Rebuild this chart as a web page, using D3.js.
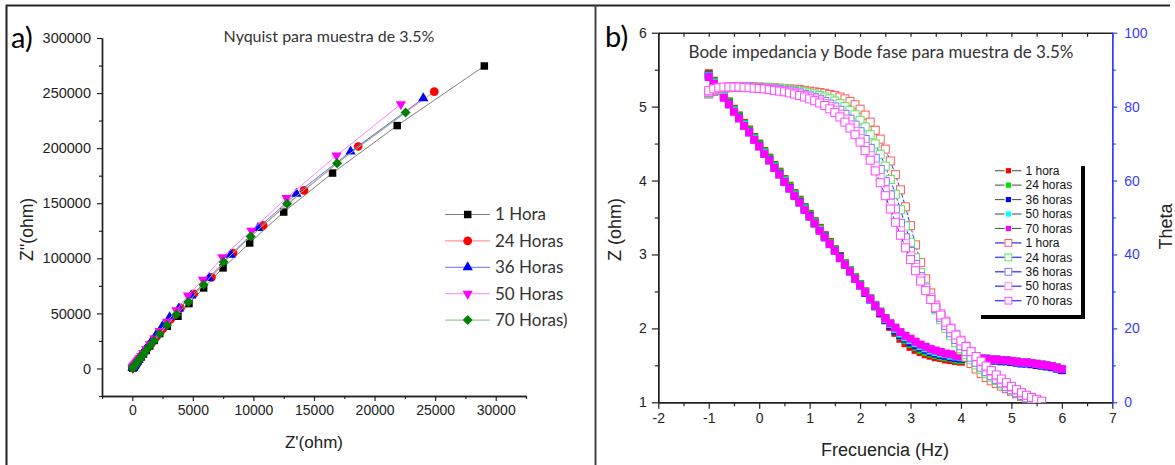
<!DOCTYPE html>
<html>
<head>
<meta charset="utf-8">
<script src="https://cdn.jsdelivr.net/npm/d3@7"></script>
<style>
  body { margin: 0; background: #fff; }
  svg { display: block; }
  .tick text { font-family: Arial, "Liberation Sans", sans-serif; font-size: 14px; fill: #222; }
</style>
</head>
<body>
<svg id="fig" width="1175" height="465"></svg>
<script>
// ---------------- Nyquist data (Z' and Z'' in ohm) ----------------
const nyqLabels = ["1 Hora", "24 Horas", "36 Horas", "50 Horas", "70 Horas)"];

const zr1h  = [29060, 21870, 16530, 12500, 9690, 7490, 5890, 4680, 3770, 2890, 2260, 1800, 1440, 1150, 920, 740, 590, 470, 380, 300, 240, 190, 150, 120, 95, 75, 60, 48, 38, 30];
const zi1h  = [274600, 220500, 177400, 142000, 113900, 91300, 73100, 58900, 47400, 38300, 31700, 25400, 20400, 16400, 13100, 10500, 8400, 6700, 5400, 4300, 3400, 2700, 2150, 1700, 1350, 1080, 860, 690, 550, 440];

const zr24h = [24930, 18650, 14180, 10800, 8320, 6530, 5070, 3970, 3150, 2510, 2000, 1600, 1280, 1020, 810, 650, 520, 410, 330, 260, 210, 165, 130, 105, 85, 68, 54, 43, 34];
const zi24h = [251300, 201500, 161600, 129900, 104800, 82700, 67700, 55000, 44500, 35900, 28900, 23300, 18700, 15000, 12000, 9600, 7700, 6200, 4900, 3900, 3100, 2500, 2000, 1600, 1270, 1010, 800, 640, 510];

const zr36h = [24020, 18020, 13550, 10380, 8120, 6330, 4870, 3850, 3080, 2480, 1980, 1580, 1260, 1000, 800, 640, 510, 400, 320, 255, 205, 160, 128, 102, 82, 65, 52, 42, 33];
const zi36h = [245300, 196900, 158600, 127500, 103300, 82200, 66200, 54400, 46500, 38300, 30900, 24800, 19900, 15900, 12700, 10200, 8100, 6500, 5200, 4100, 3300, 2600, 2100, 1650, 1320, 1050, 840, 670, 530];

const zr50h = [22170, 16860, 12730, 9830, 7440, 5830, 4600, 3640, 2880, 2280, 1820, 1450, 1150, 920, 730, 580, 460, 370, 295, 235, 185, 148, 118, 94, 75, 60, 48, 38, 30];
const zi50h = [239900, 193300, 154700, 125100, 100900, 80600, 66200, 52900, 42400, 34000, 27300, 21900, 17500, 14000, 11200, 9000, 7200, 5750, 4600, 3700, 2950, 2350, 1880, 1500, 1200, 960, 770, 610, 490];

const zr70h = [22560, 16910, 12780, 9780, 7540, 5890, 4630, 3640, 2860, 2260, 1800, 1430, 1140, 910, 730, 580, 460, 370, 295, 235, 188, 150, 120, 95, 76, 61, 49, 39, 31];
const zi70h = [232300, 186400, 149500, 119900, 96700, 76100, 60400, 48900, 39200, 31400, 25200, 20200, 16200, 13000, 10400, 8300, 6650, 5300, 4250, 3400, 2700, 2150, 1720, 1380, 1100, 880, 700, 560, 450];

const nyqXTicks = [0, 5000, 10000, 15000, 20000, 25000, 30000];
const nyqYTicks = [0, 50000, 100000, 150000, 200000, 250000, 300000];

// ---------------- Bode data (log10 f, log10 |Z|, phase in degrees) ----------------
const logFreq = [-1.0,-0.9,-0.8,-0.7,-0.6,-0.5,-0.4,-0.3,-0.2,-0.1,0.0,0.1,0.2,0.3,0.4,0.5,0.6,0.7,0.8,0.9,
  1.0,1.1,1.2,1.3,1.4,1.5,1.6,1.7,1.8,1.9,2.0,2.1,2.2,2.3,2.4,2.5,2.6,2.7,2.8,2.9,
  3.0,3.1,3.2,3.3,3.4,3.5,3.6,3.7,3.8,3.9,4.0,4.1,4.2,4.3,4.4,4.5,4.6,4.7,4.8,4.9,
  5.0,5.1,5.2,5.3,5.4,5.5,5.6,5.7,5.8,5.9,6.0];

const bodeLabels = ["1 hora", "24 horas", "36 horas", "50 horas", "70 horas"];

const logZ1h  = [5.45,5.35,5.26,5.16,5.07,4.97,4.88,4.78,4.69,4.59,4.50,4.40,4.31,4.21,4.12,4.02,3.93,3.83,3.74,3.64,
  3.55,3.45,3.36,3.26,3.17,3.07,2.98,2.88,2.79,2.69,2.60,2.50,2.40,2.30,2.20,2.11,2.02,1.94,1.86,1.80,
  1.75,1.71,1.68,1.65,1.63,1.61,1.60,1.58,1.57,1.56,1.55,1.61,1.60,1.60,1.59,1.59,1.58,1.58,1.57,1.57,
  1.56,1.55,1.54,1.54,1.53,1.52,1.51,1.50,1.49,1.47,1.45];
const logZ24h = [5.43,5.34,5.25,5.15,5.06,4.96,4.87,4.77,4.68,4.58,4.49,4.39,4.30,4.20,4.11,4.01,3.92,3.82,3.73,3.63,
  3.54,3.44,3.35,3.25,3.16,3.07,2.97,2.88,2.79,2.69,2.60,2.50,2.41,2.32,2.23,2.14,2.05,1.97,1.90,1.84,
  1.79,1.75,1.71,1.68,1.66,1.64,1.62,1.61,1.60,1.58,1.57,1.61,1.60,1.60,1.59,1.59,1.58,1.58,1.57,1.57,
  1.56,1.55,1.54,1.54,1.53,1.52,1.51,1.50,1.49,1.47,1.45];
const logZ36h = [5.42,5.32,5.23,5.13,5.04,4.94,4.85,4.75,4.66,4.56,4.47,4.37,4.28,4.18,4.09,3.99,3.90,3.80,3.71,3.61,
  3.52,3.42,3.33,3.24,3.14,3.05,2.96,2.86,2.77,2.67,2.58,2.48,2.39,2.30,2.21,2.12,2.04,1.97,1.91,1.86,
  1.81,1.77,1.74,1.71,1.68,1.66,1.64,1.63,1.61,1.60,1.59,1.595,1.585,1.585,1.575,1.575,1.565,1.565,1.555,1.555,
  1.545,1.535,1.525,1.525,1.515,1.505,1.495,1.485,1.475,1.455,1.435];
const logZ50h = [5.41,5.32,5.22,5.13,5.03,4.94,4.84,4.75,4.65,4.56,4.46,4.37,4.27,4.18,4.08,3.99,3.89,3.80,3.70,3.61,
  3.51,3.42,3.33,3.23,3.14,3.05,2.95,2.86,2.77,2.67,2.58,2.49,2.40,2.31,2.22,2.13,2.06,1.99,1.93,1.88,
  1.84,1.80,1.76,1.73,1.70,1.68,1.66,1.65,1.63,1.62,1.61,1.61,1.60,1.60,1.59,1.59,1.58,1.58,1.57,1.57,
  1.56,1.55,1.54,1.54,1.53,1.52,1.51,1.50,1.49,1.47,1.45];
const logZ70h = [5.40,5.31,5.22,5.12,5.03,4.93,4.84,4.74,4.65,4.55,4.46,4.36,4.27,4.17,4.08,3.98,3.89,3.79,3.70,3.60,
  3.51,3.42,3.32,3.23,3.14,3.05,2.95,2.86,2.77,2.67,2.58,2.49,2.40,2.31,2.22,2.14,2.07,2.01,1.95,1.90,
  1.86,1.82,1.78,1.75,1.72,1.70,1.68,1.66,1.65,1.63,1.62,1.61,1.60,1.60,1.59,1.59,1.58,1.58,1.57,1.57,
  1.56,1.55,1.54,1.54,1.53,1.52,1.51,1.50,1.49,1.47,1.45];

const theta1h  = [83.4,84.1,84.6,84.9,85.1,85.2,85.3,85.3,85.3,85.3,85.3,85.2,85.2,85.1,85.0,84.9,84.8,84.7,84.6,84.4,
  84.2,84.0,83.8,83.6,83.3,83.0,82.6,82.1,81.4,80.5,79.3,77.7,75.8,73.6,71.2,68.5,65.3,61.6,57.5,52.9,
  47.8,42.6,37.8,33.4,29.6,26.3,23.4,20.8,18.4,16.2,14.1,12.2,10.5,9.0,7.8,6.7,5.8,5.1,4.4,3.7,
  3.0,2.3,1.6,0.8,0.1];
const theta24h = [83.6,84.3,84.7,85.0,85.2,85.3,85.3,85.3,85.3,85.3,85.2,85.2,85.1,85.0,84.9,84.8,84.6,84.4,84.2,84.0,
  83.7,83.4,83.0,82.6,82.1,81.5,80.8,80.0,79.0,77.8,76.3,74.5,72.4,69.9,67.1,63.9,60.3,56.3,52.1,47.7,
  43.3,39.1,35.1,31.4,28.0,25.0,22.3,20.0,18.0,16.1,14.5,12.9,11.5,10.1,8.9,7.8,6.8,5.9,5.0,4.2,
  3.4,2.6,1.8,1.1,0.4];
const theta36h = [83.8,84.5,84.9,85.1,85.3,85.3,85.3,85.3,85.3,85.2,85.1,85.0,84.9,84.8,84.6,84.4,84.2,84.0,83.7,83.3,
  82.9,82.5,82.0,81.4,80.7,79.9,79.0,77.9,76.6,75.0,73.2,71.1,68.7,66.0,63.0,59.7,56.1,52.3,48.4,44.5,
  40.8,37.3,34.0,30.9,28.0,25.4,23.0,20.8,18.8,17.0,15.3,13.7,12.2,10.8,9.5,8.3,7.2,6.2,5.2,4.3,
  3.4,2.6,1.9,1.2,0.6,0.1];
const theta50h = [84.0,84.6,85.0,85.2,85.3,85.3,85.3,85.3,85.2,85.1,85.0,84.9,84.8,84.6,84.4,84.2,84.0,83.7,83.4,83.0,
  82.6,82.1,81.5,80.8,80.0,79.0,77.9,76.6,75.0,73.3,71.4,69.2,66.7,63.9,60.8,57.4,53.8,50.1,46.4,42.9,
  39.6,36.5,33.6,30.9,28.4,26.1,24.0,22.0,20.1,18.4,16.8,15.2,13.7,12.3,10.9,9.6,8.4,7.2,6.1,5.1,
  4.1,3.3,2.5,1.8,1.2,0.7,0.2];
const theta70h = [84.3,84.8,85.1,85.3,85.3,85.3,85.3,85.2,85.1,85.0,84.9,84.8,84.6,84.4,84.2,84.0,83.7,83.4,83.0,82.6,
  82.1,81.6,81.0,80.3,79.4,78.4,77.2,75.8,74.2,72.4,70.4,68.1,65.5,62.6,59.4,55.9,52.3,48.7,45.2,41.8,
  38.6,35.6,32.8,30.2,27.8,25.6,23.6,21.7,19.9,18.2,16.6,15.1,13.7,12.4,11.1,9.8,8.6,7.4,6.3,5.3,
  4.3,3.4,2.6,1.9,1.3,0.8,0.3];

const bodeXTicks = [-2, -1, 0, 1, 2, 3, 4, 5, 6, 7];
const bodeYTicks = [1, 2, 3, 4, 5, 6];
const thetaTicks = [0, 20, 40, 60, 80, 100];

// ---------------- drawing ----------------
const svg = d3.select("#fig");
const SANS = "Arial, 'Liberation Sans', sans-serif";
const SOFT = "Lato, 'Open Sans', sans-serif";
const fmt = d => String(d);

// figure frame
const frame = svg.append("g").attr("stroke", "#222").attr("stroke-width", 2);
frame.append("line").attr("x1", 6).attr("x2", 1170).attr("y1", 5.5).attr("y2", 5.5);
frame.append("line").attr("x1", 6.5).attr("x2", 6.5).attr("y1", 5).attr("y2", 465);
frame.append("line").attr("x1", 595.5).attr("x2", 595.5).attr("y1", 5).attr("y2", 465).attr("stroke", "#444");

// ===== Panel a: Nyquist =====
const pa = { l: 102, r: 526, t: 38, b: 396 };
const xA = d3.scaleLinear().domain([-2500, 32500]).range([pa.l, pa.r]);
const yA = d3.scaleLinear().domain([-25000, 300000]).range([pa.b, pa.t]);
const gA = svg.append("g");

function styleAxis(g, color) {
  g.select(".domain").attr("stroke", color).attr("stroke-width", 1.4);
  g.selectAll(".tick line").attr("stroke", color).attr("stroke-width", 1.2);
}

const xMinorA = d3.range(-2500, 32501, 5000);
const yMinorA = d3.range(-25000, 300001, 50000);
gA.append("g").attr("transform", `translate(0,${pa.b})`)
  .call(d3.axisBottom(xA).tickValues(xMinorA).tickSize(3).tickSizeOuter(0).tickFormat(""))
  .call(g => styleAxis(g, "#222"));
gA.append("g").attr("transform", `translate(0,${pa.b})`)
  .call(d3.axisBottom(xA).tickValues(nyqXTicks).tickSize(5).tickPadding(4).tickSizeOuter(0).tickFormat(fmt))
  .call(g => styleAxis(g, "#222"));
gA.append("g").attr("transform", `translate(${pa.l},0)`)
  .call(d3.axisLeft(yA).tickValues(yMinorA).tickSize(3).tickSizeOuter(0).tickFormat(""))
  .call(g => styleAxis(g, "#222"));
gA.append("g").attr("transform", `translate(${pa.l},0)`)
  .call(d3.axisLeft(yA).tickValues(nyqYTicks).tickSize(5).tickPadding(6).tickSizeOuter(0).tickFormat(fmt))
  .call(g => styleAxis(g, "#222"))
  .call(g => g.selectAll(".tick text").style("font-size", "14.5px"));

gA.append("text").attr("x", 314).attr("y", 448).attr("text-anchor", "middle")
  .attr("font-family", SANS).attr("font-size", 17).attr("fill", "#222").text("Z'(ohm)");
gA.append("text").attr("transform", "translate(33,229.5) rotate(-90)").attr("text-anchor", "middle")
  .attr("font-family", SANS).attr("font-size", 17.5).attr("fill", "#222").text("Z''(ohm)");
gA.append("text").attr("x", 329).attr("y", 41.5).attr("text-anchor", "middle")
  .attr("font-family", SOFT).attr("font-size", 16).attr("fill", "#333").text("Nyquist para muestra de 3.5%");
svg.append("text").attr("x", 11).attr("y", 48).attr("font-family", SOFT).attr("font-size", 29)
  .attr("fill", "#000").text("a)");

const nyqStyle = [
  { zr: zr1h,  zi: zi1h,  line: "#808080", fill: "#000000", sym: d3.symbolSquare,   size: 56, rot: 0 },
  { zr: zr24h, zi: zi24h, line: "#ff7f7f", fill: "#ff0000", sym: d3.symbolCircle,   size: 60, rot: 0 },
  { zr: zr36h, zi: zi36h, line: "#6f6fff", fill: "#0000ff", sym: d3.symbolTriangle, size: 46, rot: 0 },
  { zr: zr50h, zi: zi50h, line: "#ff7fff", fill: "#ff00ff", sym: d3.symbolTriangle, size: 46, rot: 180 },
  { zr: zr70h, zi: zi70h, line: "#7fbf7f", fill: "#007f00", sym: d3.symbolSquare,   size: 50, rot: 45 }
];

nyqStyle.forEach(s => {
  const pts = s.zr.map((v, i) => [v, s.zi[i]]);
  gA.append("path").datum(pts)
    .attr("fill", "none").attr("stroke", s.line).attr("stroke-width", 1)
    .attr("d", d3.line().x(d => xA(d[0])).y(d => yA(d[1])));
  gA.append("g").selectAll("path").data(pts).join("path")
    .attr("d", d3.symbol(s.sym, s.size))
    .attr("transform", d => `translate(${xA(d[0])},${yA(d[1])}) rotate(${s.rot})`)
    .attr("fill", s.fill);
});

// legend a
const legA = gA.append("g");
nyqLabels.forEach((name, i) => {
  const s = nyqStyle[i];
  const y = 214.5 + i * 26.4;
  legA.append("line").attr("x1", 445).attr("x2", 490).attr("y1", y).attr("y2", y)
    .attr("stroke", s.line).attr("stroke-width", 1);
  legA.append("path").attr("d", d3.symbol(s.sym, s.size))
    .attr("transform", `translate(467.7,${y}) rotate(${s.rot})`).attr("fill", s.fill);
  legA.append("text").attr("x", 495).attr("y", y + 5.8)
    .attr("font-family", SOFT).attr("font-size", 17).attr("fill", "#333").text(name);
});

// ===== Panel b: Bode =====
const pb = { l: 658.3, r: 1112.3, t: 32.7, b: 402.3 };
const xB = d3.scaleLinear().domain([-2, 7]).range([pb.l, pb.r]);
const yB = d3.scaleLinear().domain([1, 6]).range([pb.b, pb.t]);
const yT = d3.scaleLinear().domain([0, 100]).range([pb.b, pb.t]);
const gB = svg.append("g");

svg.append("defs").append("clipPath").attr("id", "clipB")
  .append("rect").attr("x", pb.l).attr("y", pb.t).attr("width", pb.r - pb.l).attr("height", pb.b - pb.t);

const xMinorB = d3.range(-1.5, 7, 1);
const yMinorB = d3.range(1.5, 6, 1);
const tMinor = d3.range(10, 100, 20);

// top frame with inward ticks
gB.append("g").attr("transform", `translate(0,${pb.t})`)
  .call(d3.axisBottom(xB).tickValues(bodeXTicks.concat(xMinorB)).tickSize(4).tickSizeOuter(0).tickFormat(""))
  .call(g => styleAxis(g, "#222"));
gB.append("g").attr("transform", `translate(0,${pb.b})`)
  .call(d3.axisBottom(xB).tickValues(xMinorB).tickSize(4).tickSizeOuter(0).tickFormat(""))
  .call(g => styleAxis(g, "#222"));
gB.append("g").attr("transform", `translate(0,${pb.b})`)
  .call(d3.axisBottom(xB).tickValues(bodeXTicks).tickSize(6.5).tickPadding(4).tickSizeOuter(0).tickFormat(fmt))
  .call(g => styleAxis(g, "#222"));
gB.append("g").attr("transform", `translate(${pb.l},0)`)
  .call(d3.axisLeft(yB).tickValues(yMinorB).tickSize(3.5).tickSizeOuter(0).tickFormat(""))
  .call(g => styleAxis(g, "#222"));
gB.append("g").attr("transform", `translate(${pb.l},0)`)
  .call(d3.axisLeft(yB).tickValues(bodeYTicks).tickSize(6.5).tickPadding(5).tickSizeOuter(0).tickFormat(fmt))
  .call(g => styleAxis(g, "#222"));
const blueAxis = "#3a3aff";
gB.append("g").attr("transform", `translate(${pb.r},0)`)
  .call(d3.axisRight(yT).tickValues(tMinor).tickSize(3.5).tickSizeOuter(0).tickFormat(""))
  .call(g => styleAxis(g, blueAxis));
gB.append("g").attr("transform", `translate(${pb.r},0)`)
  .call(d3.axisRight(yT).tickValues(thetaTicks).tickSize(5).tickPadding(7).tickSizeOuter(0).tickFormat(fmt))
  .call(g => styleAxis(g, blueAxis))
  .call(g => g.selectAll(".tick text").style("fill", blueAxis));

gB.append("text").attr("x", 885).attr("y", 456).attr("text-anchor", "middle")
  .attr("font-family", SANS).attr("font-size", 18).attr("fill", "#222").text("Frecuencia (Hz)");
gB.append("text").attr("transform", "translate(621,229.5) rotate(-90)").attr("text-anchor", "middle")
  .attr("font-family", SANS).attr("font-size", 18).attr("fill", "#222").text("Z (ohm)");
gB.append("text").attr("transform", "translate(1172,226.5) rotate(-90)").attr("text-anchor", "middle")
  .attr("font-family", SANS).attr("font-size", 18).attr("fill", "#222").text("Theta");
gB.append("text").attr("x", 881).attr("y", 57.5).attr("text-anchor", "middle")
  .attr("font-family", SOFT).attr("font-size", 17).attr("fill", "#333")
  .text("Bode impedancia y Bode fase para muestra de 3.5%");
svg.append("text").attr("x", 605).attr("y", 47).attr("font-family", SOFT).attr("font-size", 29)
  .attr("fill", "#000").text("b)");

const plotB = gB.append("g").attr("clip-path", "url(#clipB)");

const filledStyle = [
  { vals: logZ1h,  color: "#ff0000" },
  { vals: logZ24h, color: "#00e000" },
  { vals: logZ36h, color: "#0000ff" },
  { vals: logZ50h, color: "#00ffff" },
  { vals: logZ70h, color: "#ff00ff" }
];
const hollowStyle = [
  { vals: theta1h,  color: "#ff5a5a" },
  { vals: theta24h, color: "#5ae65a" },
  { vals: theta36h, color: "#7a7aff" },
  { vals: theta50h, color: "#ff7aff" },
  { vals: theta70h, color: "#ff48ff" }
];

filledStyle.forEach(s => {
  const pts = s.vals.map((v, i) => [logFreq[i], v]);
  plotB.append("path").datum(pts).attr("fill", "none").attr("stroke", "#666").attr("stroke-width", 1)
    .attr("d", d3.line().x(d => xB(d[0])).y(d => yB(d[1])));
  plotB.append("g").selectAll("rect").data(pts).join("rect")
    .attr("x", d => xB(d[0]) - 4).attr("y", d => yB(d[1]) - 4)
    .attr("width", 8).attr("height", 8).attr("fill", s.color);
});

hollowStyle.forEach(s => {
  const pts = s.vals.map((v, i) => [logFreq[i], v]);
  plotB.append("path").datum(pts).attr("fill", "none").attr("stroke", "#3030ff").attr("stroke-width", 1)
    .attr("stroke-dasharray", "4,2")
    .attr("d", d3.line().x(d => xB(d[0])).y(d => yT(d[1])));
  plotB.append("g").selectAll("rect").data(pts).join("rect")
    .attr("x", d => xB(d[0]) - 4).attr("y", d => yT(d[1]) - 4)
    .attr("width", 8).attr("height", 8)
    .attr("fill", "#fff").attr("stroke", s.color).attr("stroke-width", 1);
});

// legend b with drop shadow frame
const legB = gB.append("g");
legB.append("rect").attr("x", 981).attr("y", 166).attr("width", 104).attr("height", 153).attr("fill", "#000");
legB.append("rect").attr("x", 977).attr("y", 162).attr("width", 104).attr("height", 153).attr("fill", "#fff");
const legRows = bodeLabels.map((n, i) => ({ name: n, color: filledStyle[i].color, open: false }))
  .concat(bodeLabels.map((n, i) => ({ name: n, color: hollowStyle[i].color, open: true })));
legRows.forEach((r, i) => {
  const y = 170.7 + i * 14.44;
  const lc = r.open ? "#4646ff" : "#555";
  const lw = r.open ? 1.4 : 1.1;
  legB.append("line").attr("x1", 995).attr("x2", 1004.5).attr("y1", y).attr("y2", y).attr("stroke", lc).attr("stroke-width", lw);
  legB.append("line").attr("x1", 1012).attr("x2", 1021.5).attr("y1", y).attr("y2", y).attr("stroke", lc).attr("stroke-width", lw);
  if (r.open) {
    legB.append("rect").attr("x", 1005).attr("y", y - 3.4).attr("width", 6.8).attr("height", 6.8)
      .attr("fill", "#fff").attr("stroke", r.color).attr("stroke-width", 1);
  } else {
    legB.append("rect").attr("x", 1005.8).attr("y", y - 2.6).attr("width", 5.2).attr("height", 5.2).attr("fill", r.color);
  }
  legB.append("text").attr("x", 1025.5).attr("y", y + 4.2)
    .attr("font-family", SANS).attr("font-size", 12).attr("fill", "#111").text(r.name);
});
</script>
</body>
</html>
